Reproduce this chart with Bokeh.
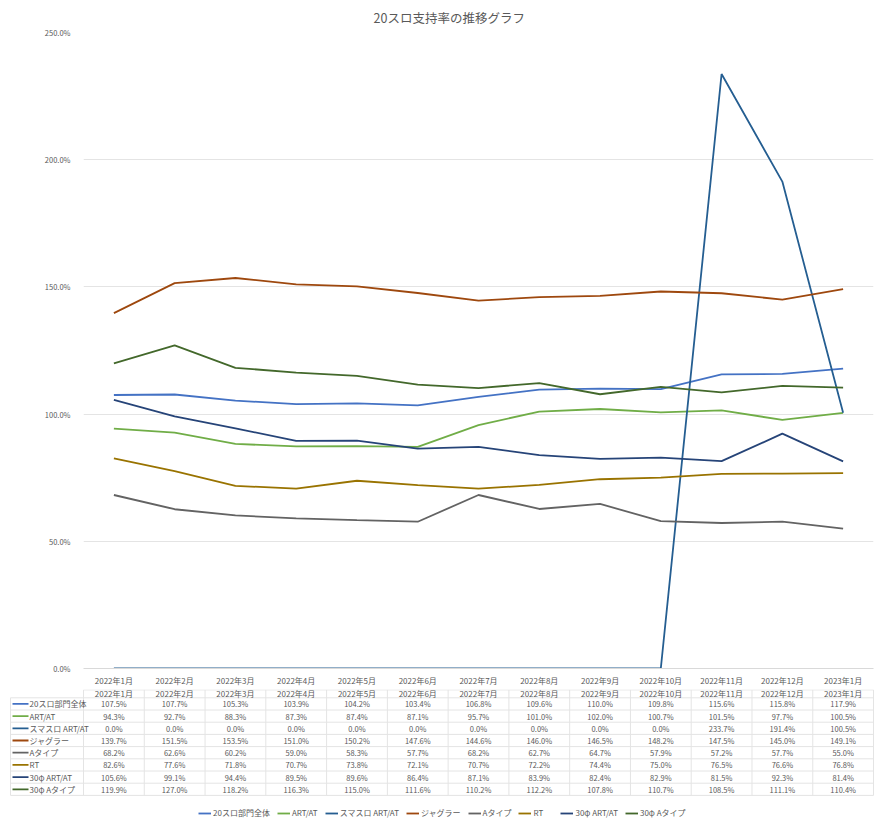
from bokeh.plotting import figure
from bokeh.models import (Range1d, FixedTicker, NumeralTickFormatter, Legend, LegendItem)
from bokeh.embed import file_html
from bokeh.resources import INLINE
from bokeh.core.properties import value

# ---------------- data ----------------
months = ["2022年1月", "2022年2月", "2022年3月", "2022年4月", "2022年5月", "2022年6月",
          "2022年7月", "2022年8月", "2022年9月", "2022年10月", "2022年11月", "2022年12月",
          "2023年1月"]

series_names = ["20スロ部門全体", "ART/AT", "スマスロ ART/AT", "ジャグラー",
                "Aタイプ", "RT", "30φ ART/AT", "30φ Aタイプ"]

s_20slo_all = [107.5, 107.7, 105.3, 103.9, 104.2, 103.4, 106.8, 109.6, 110.0, 109.8, 115.6, 115.8, 117.9]
s_art_at = [94.3, 92.7, 88.3, 87.3, 87.4, 87.1, 95.7, 101.0, 102.0, 100.7, 101.5, 97.7, 100.5]
s_smaslo = [0.0, 0.0, 0.0, 0.0, 0.0, 0.0, 0.0, 0.0, 0.0, 0.0, 233.7, 191.4, 100.5]
s_juggler = [139.7, 151.5, 153.5, 151.0, 150.2, 147.6, 144.6, 146.0, 146.5, 148.2, 147.5, 145.0, 149.1]
s_a_type = [68.2, 62.6, 60.2, 59.0, 58.3, 57.7, 68.2, 62.7, 64.7, 57.9, 57.2, 57.7, 55.0]
s_rt = [82.6, 77.6, 71.8, 70.7, 73.8, 72.1, 70.7, 72.2, 74.4, 75.0, 76.5, 76.6, 76.8]
s_30_art_at = [105.6, 99.1, 94.4, 89.5, 89.6, 86.4, 87.1, 83.9, 82.4, 82.9, 81.5, 92.3, 81.4]
s_30_a_type = [119.9, 127.0, 118.2, 116.3, 115.0, 111.6, 110.2, 112.2, 107.8, 110.7, 108.5, 111.1, 110.4]

series_values = [s_20slo_all, s_art_at, s_smaslo, s_juggler, s_a_type, s_rt, s_30_art_at, s_30_a_type]
colors = ["#4472C4", "#70AD47", "#255E91", "#9E480E", "#636363", "#997300", "#264478", "#43682B"]

y_ticks = [0.0, 0.5, 1.0, 1.5, 2.0, 2.5]
title_text = "20スロ支持率の推移グラフ"

FONT = "Noto Sans CJK JP"
TXT = "#595959"
GRID = "#E4E4E4"
W = 876

# ---------------- chart ----------------
p = figure(x_range=months, y_range=Range1d(0, 2.5), width=W, height=689,
           output_backend="svg", toolbar_location=None,
           min_border_left=83, min_border_right=3, min_border_top=31, min_border_bottom=21)
p.outline_line_color = None
p.title.text = title_text
p.title.align = "left"
p.title.offset = 290
p.title.standoff = 11
p.title.text_font = FONT
p.title.text_font_size = "12.5px"
p.title.text_font_style = "normal"
p.title.text_color = TXT

p.yaxis.ticker = FixedTicker(ticks=y_ticks)
p.yaxis.formatter = NumeralTickFormatter(format="0.0%")
p.yaxis.axis_line_color = None
p.yaxis.major_tick_line_color = None
p.yaxis.minor_tick_line_color = None
p.yaxis.major_label_standoff = 7
p.yaxis.major_label_text_font = FONT
p.yaxis.major_label_text_font_size = "7.5px"
p.yaxis.major_label_text_color = TXT

p.xaxis.axis_line_color = "#D9D9D9"
p.xaxis.major_tick_line_color = None
p.xaxis.minor_tick_line_color = None
p.xaxis.major_label_standoff = 0
p.xaxis.major_label_text_font = FONT
p.xaxis.major_label_text_font_size = "8px"
p.xaxis.major_label_text_color = TXT

p.xgrid.grid_line_color = None
p.ygrid.grid_line_color = GRID
p.ygrid.grid_line_width = 1

for name, vals, col in zip(series_names, series_values, colors):
    p.line(x=months, y=[v / 100 for v in vals], line_color=col, line_width=1.8)

# ---------------- data table ----------------
COLW = 60.77         # px per category
CENTER0 = 113.4      # x of first category centre
ROWH = 12.2          # px per table row


def ux(px):
    return (px - CENTER0) / COLW


T_TOP = 689
T_H = 133
row1_y = 703.4


def uy(py):
    return 1 + (py - row1_y) / ROWH


t = figure(x_range=Range1d(ux(0), ux(W)), y_range=Range1d(uy(T_TOP + T_H), uy(T_TOP)),
           width=W, height=T_H, output_backend="svg", toolbar_location=None,
           x_axis_location=None, y_axis_location=None,
           min_border_left=0, min_border_right=0, min_border_top=0, min_border_bottom=0)
t.outline_line_color = None
t.xgrid.grid_line_color = None
t.ygrid.grid_line_color = None

n_cols = len(months)
n_rows = len(series_names)
left_edge = ux(10)
first_col_left = -0.5
right_edge = n_cols - 0.5
header_top = uy(689.4)

# table borders
hx0, hx1, hy = [first_col_left], [right_edge], [header_top]
for r in range(1, n_rows + 2):
    hx0.append(left_edge); hx1.append(right_edge); hy.append(r - 0.5)
t.segment(x0=hx0, y0=hy, x1=hx1, y1=hy, line_color=GRID, line_width=1)

vx, vy0, vy1 = [left_edge], [0.5], [n_rows + 0.5]
for c in range(n_cols + 1):
    vx.append(c - 0.5); vy0.append(header_top); vy1.append(n_rows + 0.5)
t.segment(x0=vx, y0=vy0, x1=vx, y1=vy1, line_color=GRID, line_width=1)

# header
t.text(x=list(range(n_cols)), y=[uy(692.8)] * n_cols, text=months,
       text_align="center", text_baseline="middle", text_font=value(FONT),
       text_font_size="8px", text_color=TXT)

# values
xs, ys, labels = [], [], []
for r, vals in enumerate(series_values, start=1):
    for c, v in enumerate(vals):
        xs.append(c); ys.append(r); labels.append(f"{v:.1f}%")
t.text(x=xs, y=ys, text=labels, text_align="center", text_baseline="middle",
       text_font=value(FONT), text_font_size="7.5px", text_color=TXT)

# row labels with swatches
items = []
for r, (name, col) in enumerate(zip(series_names, colors), start=1):
    rend = t.segment(x0=[ux(12)], y0=[r], x1=[ux(28)], y1=[r], line_color=col, line_width=1.8)
    items.append(LegendItem(label=name, renderers=[rend]))
t.text(x=[ux(29)] * n_rows, y=list(range(1, n_rows + 1)), text=series_names,
       text_align="left", text_baseline="middle", text_font=value(FONT),
       text_font_size="8px", text_color=TXT)

legend = Legend(items=items, orientation="horizontal", location=(198, 4),
                glyph_width=13, glyph_height=10, label_height=10, label_standoff=2,
                label_text_font=FONT, label_text_font_size="8px", label_text_color=TXT,
                spacing=7, padding=0, margin=0, border_line_color=None,
                background_fill_alpha=0)
t.add_layout(legend)

open("out.html", "w").write(file_html([p, t], INLINE))
